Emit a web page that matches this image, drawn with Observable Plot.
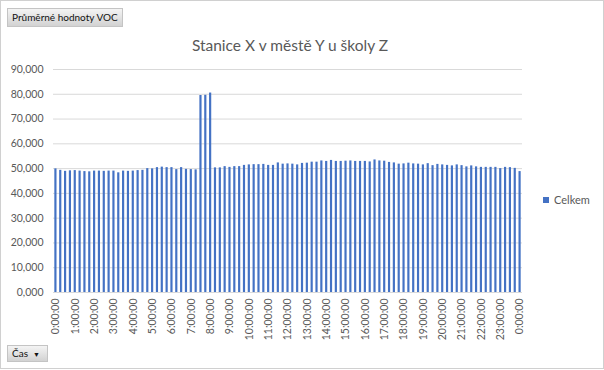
<!DOCTYPE html>
<html><head><meta charset="utf-8">
<script src="https://cdn.jsdelivr.net/npm/d3@7"></script>
<script src="https://cdn.jsdelivr.net/npm/@observablehq/plot@0.6"></script>
<style>
body{margin:0;background:#fff;}
#wrap{position:relative;width:604px;height:370px;font-family:Lato,"Open Sans",sans-serif;overflow:hidden;background:#fff;}
#frame{position:absolute;left:0;top:0;width:602px;height:367px;border:1px solid #d0d0d0;pointer-events:none;}
#chart{position:absolute;left:0;top:0;}
.btn{position:absolute;box-sizing:border-box;background:linear-gradient(#f4f4f4,#d2d2d2);border:1px solid #c4c4c4;font-size:10px;color:#111;padding:0 4px;white-space:nowrap;}
#title{position:absolute;left:0;width:580px;top:36px;text-align:center;font-size:15.5px;color:#595959;}
#legend{position:absolute;left:543px;top:193px;font-size:11px;color:#595959;}
#legend span.sw{display:inline-block;width:6px;height:6px;background:#4472c4;margin-right:5px;vertical-align:1px;}
</style>
</head><body>
<div id="wrap">
  <div id="chart"></div>
  <div class="btn" style="left:7px;top:8px;height:19px;line-height:17px;">Průměrné hodnoty VOC</div>
  <div id="title">Stanice X v městě Y u školy Z</div>
  <div id="legend"><span class="sw"></span>Celkem</div>
  <div class="btn" style="left:7px;top:345px;height:17px;width:41px;line-height:15px;">Čas&nbsp;&nbsp;<span style="font-size:7px;">▼</span></div>
  <div id="frame"></div>
</div>
<script>
const times = [
"0:00:00","0:15:00","0:30:00","0:45:00","1:00:00","1:15:00","1:30:00","1:45:00",
"2:00:00","2:15:00","2:30:00","2:45:00","3:00:00","3:15:00","3:30:00","3:45:00",
"4:00:00","4:15:00","4:30:00","4:45:00","5:00:00","5:15:00","5:30:00","5:45:00",
"6:00:00","6:15:00","6:30:00","6:45:00","7:00:00","7:15:00","7:30:00","7:45:00",
"8:00:00","8:15:00","8:30:00","8:45:00","9:00:00","9:15:00","9:30:00","9:45:00",
"10:00:00","10:15:00","10:30:00","10:45:00","11:00:00","11:15:00","11:30:00","11:45:00",
"12:00:00","12:15:00","12:30:00","12:45:00","13:00:00","13:15:00","13:30:00","13:45:00",
"14:00:00","14:15:00","14:30:00","14:45:00","15:00:00","15:15:00","15:30:00","15:45:00",
"16:00:00","16:15:00","16:30:00","16:45:00","17:00:00","17:15:00","17:30:00","17:45:00",
"18:00:00","18:15:00","18:30:00","18:45:00","19:00:00","19:15:00","19:30:00","19:45:00",
"20:00:00","20:15:00","20:30:00","20:45:00","21:00:00","21:15:00","21:30:00","21:45:00",
"22:00:00","22:15:00","22:30:00","22:45:00","23:00:00","23:15:00","23:30:00","23:45:00",
"0:00:00"];
const celkem = [
49.9,49.3,48.9,49.1,49.2,49.0,48.8,48.7,
49.0,49.0,48.9,49.0,49.0,48.3,49.0,48.9,
49.0,49.2,49.3,50.0,49.9,50.4,50.6,50.4,
50.4,49.6,50.4,49.7,49.6,49.5,79.5,79.6,
80.5,50.3,50.3,50.8,50.5,50.8,50.8,51.3,
51.5,51.6,51.6,51.7,51.3,51.3,52.3,51.8,
51.9,51.8,51.5,52.1,52.2,52.6,52.6,53.1,
52.9,53.3,52.9,52.9,53.0,53.1,52.9,52.9,
52.9,52.7,53.5,53.1,53.0,52.5,52.3,51.8,
51.9,52.2,51.9,51.8,51.5,52.0,51.2,51.7,
51.5,51.3,51.1,51.5,51.2,50.7,51.1,50.7,
50.5,50.5,50.5,50.5,50.0,50.5,50.4,50.1,
48.8];
const yTicks = [0,10,20,30,40,50,60,70,80,90];
const xLabelStep = 4;

const data = celkem.map((v, i) => ({i, t: times[i], v}));
const xTicks = d3.range(0, times.length, xLabelStep);
const fmt = d => d3.format(".3f")(d).replace(".", ",");

const chart = Plot.plot({
  width: 604,
  height: 370,
  marginLeft: 53,
  marginRight: 82,
  marginTop: 69,
  marginBottom: 78,
  style: {fontFamily: "Lato, 'Open Sans', sans-serif", fontSize: "10.5px", color: "#595959", background: "transparent", overflow: "visible"},
  x: {type: "band", domain: d3.range(times.length), paddingInner: 0.55, paddingOuter: 0.275, axis: null},
  y: {domain: [0, 90], axis: null},
  marks: [
    Plot.gridY(yTicks, {stroke: "#d9d9d9", strokeOpacity: 1}),
    Plot.ruleY([0], {stroke: "#d9d9d9"}),
    Plot.barY(data, {x: "i", y: "v", fill: "#4472c4"}),
    Plot.axisY(yTicks, {tickSize: 0, tickPadding: 10, tickFormat: fmt, fill: "#595959", label: null}),
    Plot.axisX(xTicks, {tickSize: 0, tickPadding: 6, tickRotate: -90, tickFormat: i => times[i], fill: "#595959", label: null})
  ]
});
document.getElementById("chart").appendChild(chart);
</script>
</body></html>
